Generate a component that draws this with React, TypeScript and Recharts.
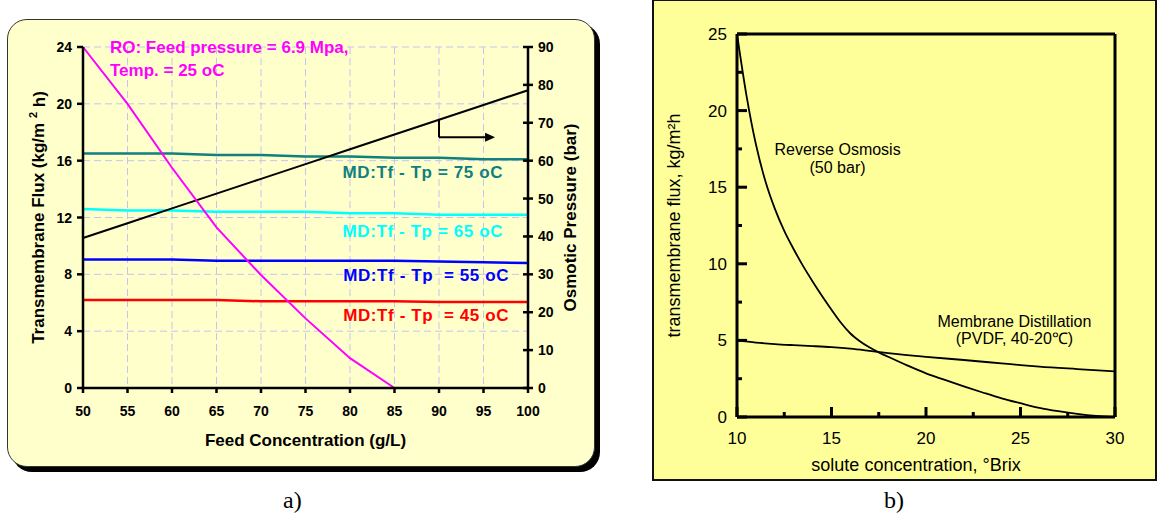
import React from 'react';
import { LineChart, Line, XAxis, YAxis, CartesianGrid, ReferenceLine, ReferenceDot, Label } from 'recharts';

const FONT = "Arial, 'Liberation Sans', Helvetica, sans-serif";
const SERIF = "'Times New Roman', 'Liberation Serif', serif";

// ---------- Panel a data ----------
const feedConc = [50, 55, 60, 65, 70, 75, 80, 85, 90, 95, 100];
const roFluxA: (number | null)[] = [24, 20, 15.5, 11.3, 7.95, 4.9, 2.1, 0, null, null, null];
const osmoticPressure = [39.6, 43.5, 47.4, 51.3, 55.2, 59.1, 63.0, 66.9, 70.8, 74.7, 78.6];
const mdFlux75 = [16.5, 16.5, 16.5, 16.4, 16.4, 16.3, 16.3, 16.2, 16.2, 16.1, 16.1];
const mdFlux65 = [12.6, 12.5, 12.5, 12.4, 12.4, 12.4, 12.3, 12.3, 12.2, 12.2, 12.2];
const mdFlux55 = [9.05, 9.05, 9.05, 8.95, 8.95, 8.95, 8.95, 8.95, 8.9, 8.85, 8.8];
const mdFlux45 = [6.2, 6.2, 6.2, 6.2, 6.1, 6.1, 6.1, 6.1, 6.05, 6.05, 6.05];
const concTicks = [50, 55, 60, 65, 70, 75, 80, 85, 90, 95, 100];
const fluxTicksA = [0, 4, 8, 12, 16, 20, 24];
const pressureTicks = [0, 10, 20, 30, 40, 50, 60, 70, 80, 90];

// ---------- Panel b data ----------
const roBrix = [10, 10.5, 11, 11.5, 12, 12.5, 13, 13.5, 14, 14.5, 15, 15.5, 16, 16.5, 17, 17.5, 18, 19, 20, 21, 22, 23, 24, 25, 26, 27, 28, 29, 30];
const roFluxB = [25, 21.0, 17.8, 15.4, 13.6, 12.15, 10.95, 9.85, 8.85, 7.9, 7.0, 6.15, 5.45, 4.95, 4.55, 4.22, 3.93, 3.37, 2.85, 2.42, 2.0, 1.6, 1.22, 0.9, 0.6, 0.38, 0.2, 0.07, 0];
const mdBrix = [10, 11, 12, 13, 14, 15, 16, 17, 18, 19, 20, 22, 24, 25, 26, 28, 30];
const mdFluxB = [5.0, 4.86, 4.76, 4.69, 4.63, 4.56, 4.46, 4.32, 4.17, 4.04, 3.93, 3.72, 3.5, 3.39, 3.29, 3.13, 2.98];
const brixTicks = [10, 12.5, 15, 17.5, 20, 22.5, 25, 27.5, 30];
const fluxTicksB = [0, 2.5, 5, 7.5, 10, 12.5, 15, 17.5, 20, 22.5, 25];

const dataA = feedConc.map((x, i) => ({
  x,
  ro: roFluxA[i],
  osm: osmoticPressure[i],
  md75: mdFlux75[i],
  md65: mdFlux65[i],
  md55: mdFlux55[i],
  md45: mdFlux45[i],
}));
const roDataB = roBrix.map((x, i) => ({ x, y: roFluxB[i] }));
const mdDataB = mdBrix.map((x, i) => ({ x, y: mdFluxB[i] }));

// ---------- ticks ----------
const TickAX = (p: any) => (
  <g>
    <line x1={p.x} y1={p.y} x2={p.x} y2={p.y + 5} stroke="#000" strokeWidth={2.5} />
    <text x={p.x} y={p.y + 27.5} textAnchor="middle" fontFamily={FONT} fontWeight="bold" fontSize={14} fill="#000">
      {p.payload.value}
    </text>
  </g>
);
const TickALeft = (p: any) => (
  <g>
    <line x1={p.x - 6} y1={p.y} x2={p.x} y2={p.y} stroke="#000" strokeWidth={2.5} />
    <text x={p.x - 11} y={p.y + 5} textAnchor="end" fontFamily={FONT} fontWeight="bold" fontSize={14} fill="#000">
      {p.payload.value}
    </text>
  </g>
);
const TickARight = (p: any) => (
  <g>
    <line x1={p.x - 5} y1={p.y} x2={p.x + 5} y2={p.y} stroke="#000" strokeWidth={2.5} />
    <text x={p.x + 10} y={p.y + 5} textAnchor="start" fontFamily={FONT} fontWeight="bold" fontSize={14} fill="#000">
      {p.payload.value}
    </text>
  </g>
);
const isMajor = (v: number) => Math.abs(v % 5) < 1e-6;
const TickBX = (p: any) => {
  const v = p.payload.value;
  const major = isMajor(v);
  return (
    <g>
      <line x1={p.x} y1={p.y} x2={p.x} y2={p.y - (major ? 10 : 5)} stroke="#000" strokeWidth={3} />
      {major && (
        <text x={p.x} y={p.y + 27} textAnchor="middle" fontFamily={FONT} fontSize={17} fill="#000">
          {v}
        </text>
      )}
    </g>
  );
};
const TickBY = (p: any) => {
  const v = p.payload.value;
  const major = isMajor(v);
  return (
    <g>
      <line x1={p.x} y1={p.y} x2={p.x + (major ? 10 : 5)} y2={p.y} stroke="#000" strokeWidth={3} />
      {major && (
        <text x={p.x - 10} y={p.y + 6} textAnchor="end" fontFamily={FONT} fontSize={17} fill="#000">
          {v}
        </text>
      )}
    </g>
  );
};

// ---------- text annotations ----------
const makeText = (lines: string[], o: { anchor: string; color: string; size: number; weight?: string; spacing?: number; gap?: number }) =>
  (p: any) => (
    <text
      x={p.cx}
      y={p.cy}
      textAnchor={o.anchor as any}
      fill={o.color}
      fontSize={o.size}
      fontWeight={o.weight || 'normal'}
      fontFamily={FONT}
      letterSpacing={o.spacing || 0}
      style={{ whiteSpace: 'pre' }}
    >
      {lines.map((l, i) => (
        <tspan key={i} x={p.cx} dy={i === 0 ? 0 : o.gap || 18}>
          {l}
        </tspan>
      ))}
    </text>
  );

const arrowHead = (p: any) => (
  <polygon points={`${p.cx},${p.cy} ${p.cx - 10},${p.cy - 4.5} ${p.cx - 10},${p.cy + 4.5}`} fill="#000" />
);

const labelStyle = { fontFamily: FONT, fontWeight: 'bold' as const, fontSize: 17, fill: '#000' };

export default function App() {
  return (
    <div style={{ position: 'absolute', left: 0, top: 0, width: 1157, height: 515, background: '#fff', overflow: 'hidden' }}>
      {/* Panel a frame */}
      <div
        style={{
          position: 'absolute',
          left: 7,
          top: 19,
          width: 588,
          height: 448,
          boxSizing: 'border-box',
          border: '1.5px solid #333',
          borderRadius: 20,
          background: '#FFFFCC',
          boxShadow: '5px 5px 0 #000',
        }}
      />
      {/* Panel b frame */}
      <div
        style={{
          position: 'absolute',
          left: 652,
          top: 0,
          width: 505,
          height: 481,
          boxSizing: 'border-box',
          borderTop: '1px solid #111',
          borderRight: '2px solid #111',
          borderBottom: '2px solid #111',
          borderLeft: '2px solid #111',
          background: '#FFFF99',
        }}
      />

      {/* Panel a chart */}
      <div style={{ position: 'absolute', left: 0, top: 0 }}>
        <LineChart width={620} height={480} data={dataA} margin={{ top: 47, right: 42, bottom: 52, left: 40 }}>
          <CartesianGrid yAxisId="left" stroke="#C4C4F2" strokeDasharray="7 4" strokeWidth={1} />
          <XAxis
            dataKey="x"
            type="number"
            domain={[50, 100]}
            ticks={concTicks}
            interval={0}
            height={40}
            tickSize={0}
            tickMargin={0}
            tick={<TickAX />}
            axisLine={{ stroke: '#000', strokeWidth: 2.5 }}
            tickLine={false}
          >
            <Label
              content={(props: any) => {
                const vb = props.viewBox || { x: 83, y: 388, width: 445, height: 40 };
                return (
                  <text x={vb.x + vb.width / 2} y={vb.y + 58} textAnchor="middle" {...labelStyle}>
                    Feed Concentration (g/L)
                  </text>
                );
              }}
            />
          </XAxis>
          <YAxis
            yAxisId="left"
            type="number"
            domain={[0, 24]}
            ticks={fluxTicksA}
            interval={0}
            width={43}
            tickSize={0}
            tickMargin={0}
            tick={<TickALeft />}
            axisLine={{ stroke: '#000', strokeWidth: 2.5 }}
            tickLine={false}
          >
            <Label
              content={(props: any) => {
                const vb = props.viewBox || { x: 40, y: 47, width: 43, height: 341 };
                const cx = vb.x - 1.5;
                const cy = vb.y + vb.height / 2;
                return (
                  <text x={cx} y={cy} transform={`rotate(-90 ${cx} ${cy})`} textAnchor="middle" dominantBaseline="central" {...labelStyle}>
                    Transmembrane Flux (kg/m{' '}
                    <tspan dy={-6} fontSize={11}>2</tspan>
                    <tspan dy={6}> h)</tspan>
                  </text>
                );
              }}
            />
          </YAxis>
          <YAxis
            yAxisId="right"
            orientation="right"
            type="number"
            domain={[0, 90]}
            ticks={pressureTicks}
            interval={0}
            width={50}
            tickSize={0}
            tickMargin={0}
            tick={<TickARight />}
            axisLine={{ stroke: '#000', strokeWidth: 2.5 }}
            tickLine={false}
          >
            <Label
              content={(props: any) => {
                const vb = props.viewBox || { x: 528, y: 47, width: 50, height: 341 };
                const cx = vb.x + 42;
                const cy = vb.y + vb.height / 2;
                return (
                  <text x={cx} y={cy} transform={`rotate(-90 ${cx} ${cy})`} textAnchor="middle" dominantBaseline="central" {...labelStyle}>
                    Osmotic Pressure (bar)
                  </text>
                );
              }}
            />
          </YAxis>

          <Line yAxisId="left" type="linear" dataKey="md75" stroke="#0F7F7F" strokeWidth={2.5} dot={false} isAnimationActive={false} />
          <Line yAxisId="left" type="linear" dataKey="md65" stroke="#00FFFF" strokeWidth={2.5} dot={false} isAnimationActive={false} />
          <Line yAxisId="left" type="linear" dataKey="md55" stroke="#0000FF" strokeWidth={2.5} dot={false} isAnimationActive={false} />
          <Line yAxisId="left" type="linear" dataKey="md45" stroke="#FF0000" strokeWidth={2.5} dot={false} isAnimationActive={false} />
          <Line yAxisId="right" type="linear" dataKey="osm" stroke="#000" strokeWidth={2} dot={false} isAnimationActive={false} />
          <Line yAxisId="left" type="linear" dataKey="ro" stroke="#FF00FF" strokeWidth={2} dot={false} connectNulls={false} isAnimationActive={false} />

          <ReferenceLine yAxisId="right" segment={[{ x: 90, y: 70.8 }, { x: 90, y: 66.2 }]} stroke="#000" strokeWidth={2} />
          <ReferenceLine yAxisId="right" segment={[{ x: 90, y: 66.2 }, { x: 95.4, y: 66.2 }]} stroke="#000" strokeWidth={2} />
          <ReferenceDot yAxisId="right" x={96.3} y={66.2} r={1} ifOverflow="visible" shape={arrowHead} />

          <ReferenceDot
            yAxisId="left"
            x={53.03}
            y={23.56}
            r={1}
            ifOverflow="visible"
            shape={makeText(['RO: Feed pressure = 6.9 Mpa,', 'Temp. = 25 oC'], { anchor: 'start', color: '#FF00FF', size: 17, weight: 'bold', spacing: 0, gap: 23 })}
          />
          <ReferenceDot yAxisId="left" x={97.2} y={14.76} r={1} ifOverflow="visible"
            shape={makeText(['MD:Tf - Tp = 75 oC'], { anchor: 'end', color: '#0F7F7F', size: 17, weight: 'bold', spacing: 0.6 })} />
          <ReferenceDot yAxisId="left" x={97.2} y={10.65} r={1} ifOverflow="visible"
            shape={makeText(['MD:Tf - Tp = 65 oC'], { anchor: 'end', color: '#00FFFF', size: 17, weight: 'bold', spacing: 0.6 })} />
          <ReferenceDot yAxisId="left" x={97.87} y={7.55} r={1} ifOverflow="visible"
            shape={makeText(['MD:Tf - Tp  = 55 oC'], { anchor: 'end', color: '#0000FF', size: 17, weight: 'bold', spacing: 0.6 })} />
          <ReferenceDot yAxisId="left" x={97.87} y={4.72} r={1} ifOverflow="visible"
            shape={makeText(['MD:Tf - Tp  = 45 oC'], { anchor: 'end', color: '#FF0000', size: 17, weight: 'bold', spacing: 0.6 })} />
        </LineChart>
      </div>

      {/* Panel b chart */}
      <div style={{ position: 'absolute', left: 653, top: 0 }}>
        <LineChart width={504} height={482} margin={{ top: 34, right: 42, bottom: 25, left: 24 }}>
          <XAxis
            dataKey="x"
            type="number"
            domain={[10, 30]}
            ticks={brixTicks}
            interval={0}
            height={40}
            tickSize={0}
            tickMargin={0}
            tick={<TickBX />}
            axisLine={{ stroke: '#000', strokeWidth: 3 }}
            tickLine={false}
            allowDuplicatedCategory={false}
          >
            <Label
              content={(props: any) => {
                const vb = props.viewBox || { x: 84, y: 417, width: 378, height: 40 };
                return (
                  <text x={vb.x + vb.width / 2 - 10} y={vb.y + 54} textAnchor="middle" fontFamily={FONT} fontSize={18} fill="#000">
                    solute concentration, °Brix
                  </text>
                );
              }}
            />
          </XAxis>
          <YAxis
            type="number"
            domain={[0, 25]}
            ticks={fluxTicksB}
            interval={0}
            width={60}
            tickSize={0}
            tickMargin={0}
            tick={<TickBY />}
            axisLine={{ stroke: '#000', strokeWidth: 3 }}
            tickLine={false}
          >
            <Label
              content={(props: any) => {
                const vb = props.viewBox || { x: 24, y: 34, width: 60, height: 383 };
                const cx = vb.x - 3;
                const cy = vb.y + vb.height / 2;
                return (
                  <text x={cx} y={cy} transform={`rotate(-90 ${cx} ${cy})`} textAnchor="middle" dominantBaseline="central" fontFamily={FONT} fontSize={18} fill="#000">
                    transmembrane flux, kg/m²h
                  </text>
                );
              }}
            />
          </YAxis>
          <ReferenceLine y={25} stroke="#000" strokeWidth={3} />
          <ReferenceLine x={30} stroke="#000" strokeWidth={3} />
          <Line data={roDataB} dataKey="y" type="monotone" stroke="#000" strokeWidth={1.8} dot={false} isAnimationActive={false} />
          <Line data={mdDataB} dataKey="y" type="monotone" stroke="#000" strokeWidth={1.8} dot={false} isAnimationActive={false} />
          <ReferenceDot x={15.32} y={17.1} r={1} ifOverflow="visible"
            shape={makeText(['Reverse Osmosis', '(50 bar)'], { anchor: 'middle', color: '#000', size: 16, gap: 18 })} />
          <ReferenceDot x={24.68} y={5.86} r={1} ifOverflow="visible"
            shape={makeText(['Membrane Distillation', '(PVDF, 40-20℃)'], { anchor: 'middle', color: '#000', size: 16, gap: 17 })} />
        </LineChart>
      </div>

      {/* panel captions */}
      <svg width={1157} height={515} style={{ position: 'absolute', left: 0, top: 0, pointerEvents: 'none' }}>
        <text x={283} y={508} fontFamily={SERIF} fontSize={24} fill="#000">a)</text>
        <text x={884} y={508} fontFamily={SERIF} fontSize={24} fill="#000">b)</text>
      </svg>
    </div>
  );
}
